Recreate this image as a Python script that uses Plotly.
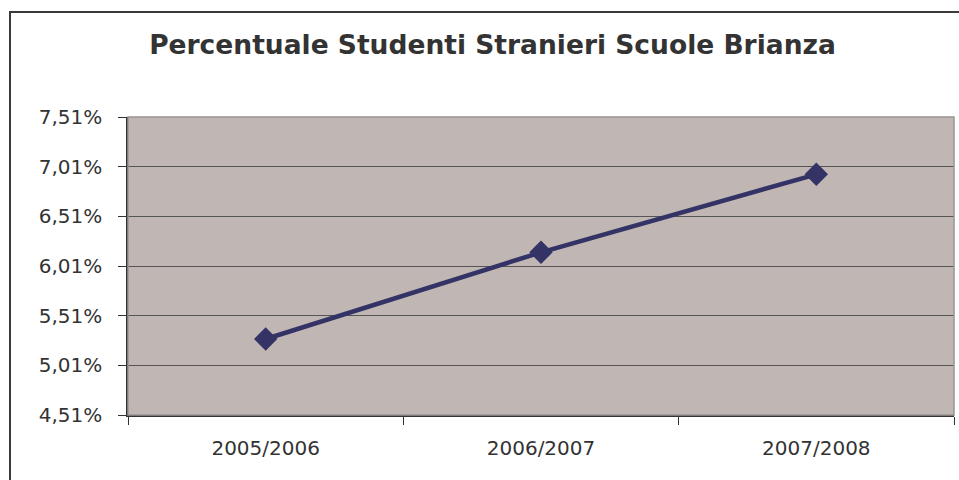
import plotly.graph_objects as go

# Data
anni = ["2005/2006", "2006/2007", "2007/2008"]
percentuale = [5.275, 6.148, 6.933]
y_tick_vals = [4.51, 5.01, 5.51, 6.01, 6.51, 7.01, 7.51]
y_tick_text = ["4,51%", "5,01%", "5,51%", "6,01%", "6,51%", "7,01%", "7,51%"]
titolo = "Percentuale Studenti Stranieri Scuole Brianza"

fig = go.Figure()
fig.add_trace(go.Scatter(
    x=anni, y=percentuale, mode="lines+markers",
    line=dict(color="#333366", width=4.5),
    marker=dict(symbol="diamond", size=18, color="#333366"),
    hoverinfo="x+y", showlegend=False,
))

W, H = 959, 480
fig.update_layout(
    width=W, height=H,
    margin=dict(l=128, r=5, t=117, b=65),
    paper_bgcolor="white",
    plot_bgcolor="#c0b7b4",
    title=dict(text="<b>" + titolo + "</b>", x=492.5 / W, xref="container", xanchor="center",
               y=1 - 45 / H, yref="container", yanchor="middle",
               font=dict(family="DejaVu Sans", size=26.5, color="#333333")),
    font=dict(family="DejaVu Sans", color="#333333"),
)

fig.update_xaxes(
    type="category", range=[-0.5, 2.5], tickson="boundaries",
    ticks="outside", ticklen=8, tickcolor="#333333", tickwidth=1,
    showline=True, linecolor="#333333", linewidth=1.5,
    showgrid=False, tickfont=dict(size=20, color="#333333"),
    ticklabelstandoff=14,
)
fig.update_yaxes(
    range=[4.51, 7.51], tickvals=y_tick_vals, ticktext=y_tick_text,
    ticks="outside", ticklen=8, tickcolor="#333333", tickwidth=1,
    showline=True, linecolor="#333333", linewidth=1.5,
    showgrid=True, gridcolor="#555555", gridwidth=1, zeroline=False,
    tickfont=dict(size=20, color="#333333"), ticklabelstandoff=12,
)

# plot-area light border (top/right)
fig.add_shape(type="rect", xref="x domain", yref="y domain", x0=0, x1=1, y0=0, y1=1,
              line=dict(color="#9a9494", width=1.5), layer="above")
# outer chart frame: top and left edges
frame = dict(type="line", xref="paper", yref="paper", xsizemode="pixel", ysizemode="pixel",
             xanchor=0, yanchor=1, line=dict(color="#3a3a3a", width=2), layer="below")
fig.add_shape(**frame, x0=-119, x1=900, y0=105, y1=105)
fig.add_shape(**frame, x0=-118, x1=-118, y0=-420, y1=106)

fig.write_html("out.html", config={"displayModeBar": False},
               post_script="document.body.style.margin='0';document.body.style.overflow='hidden';")
